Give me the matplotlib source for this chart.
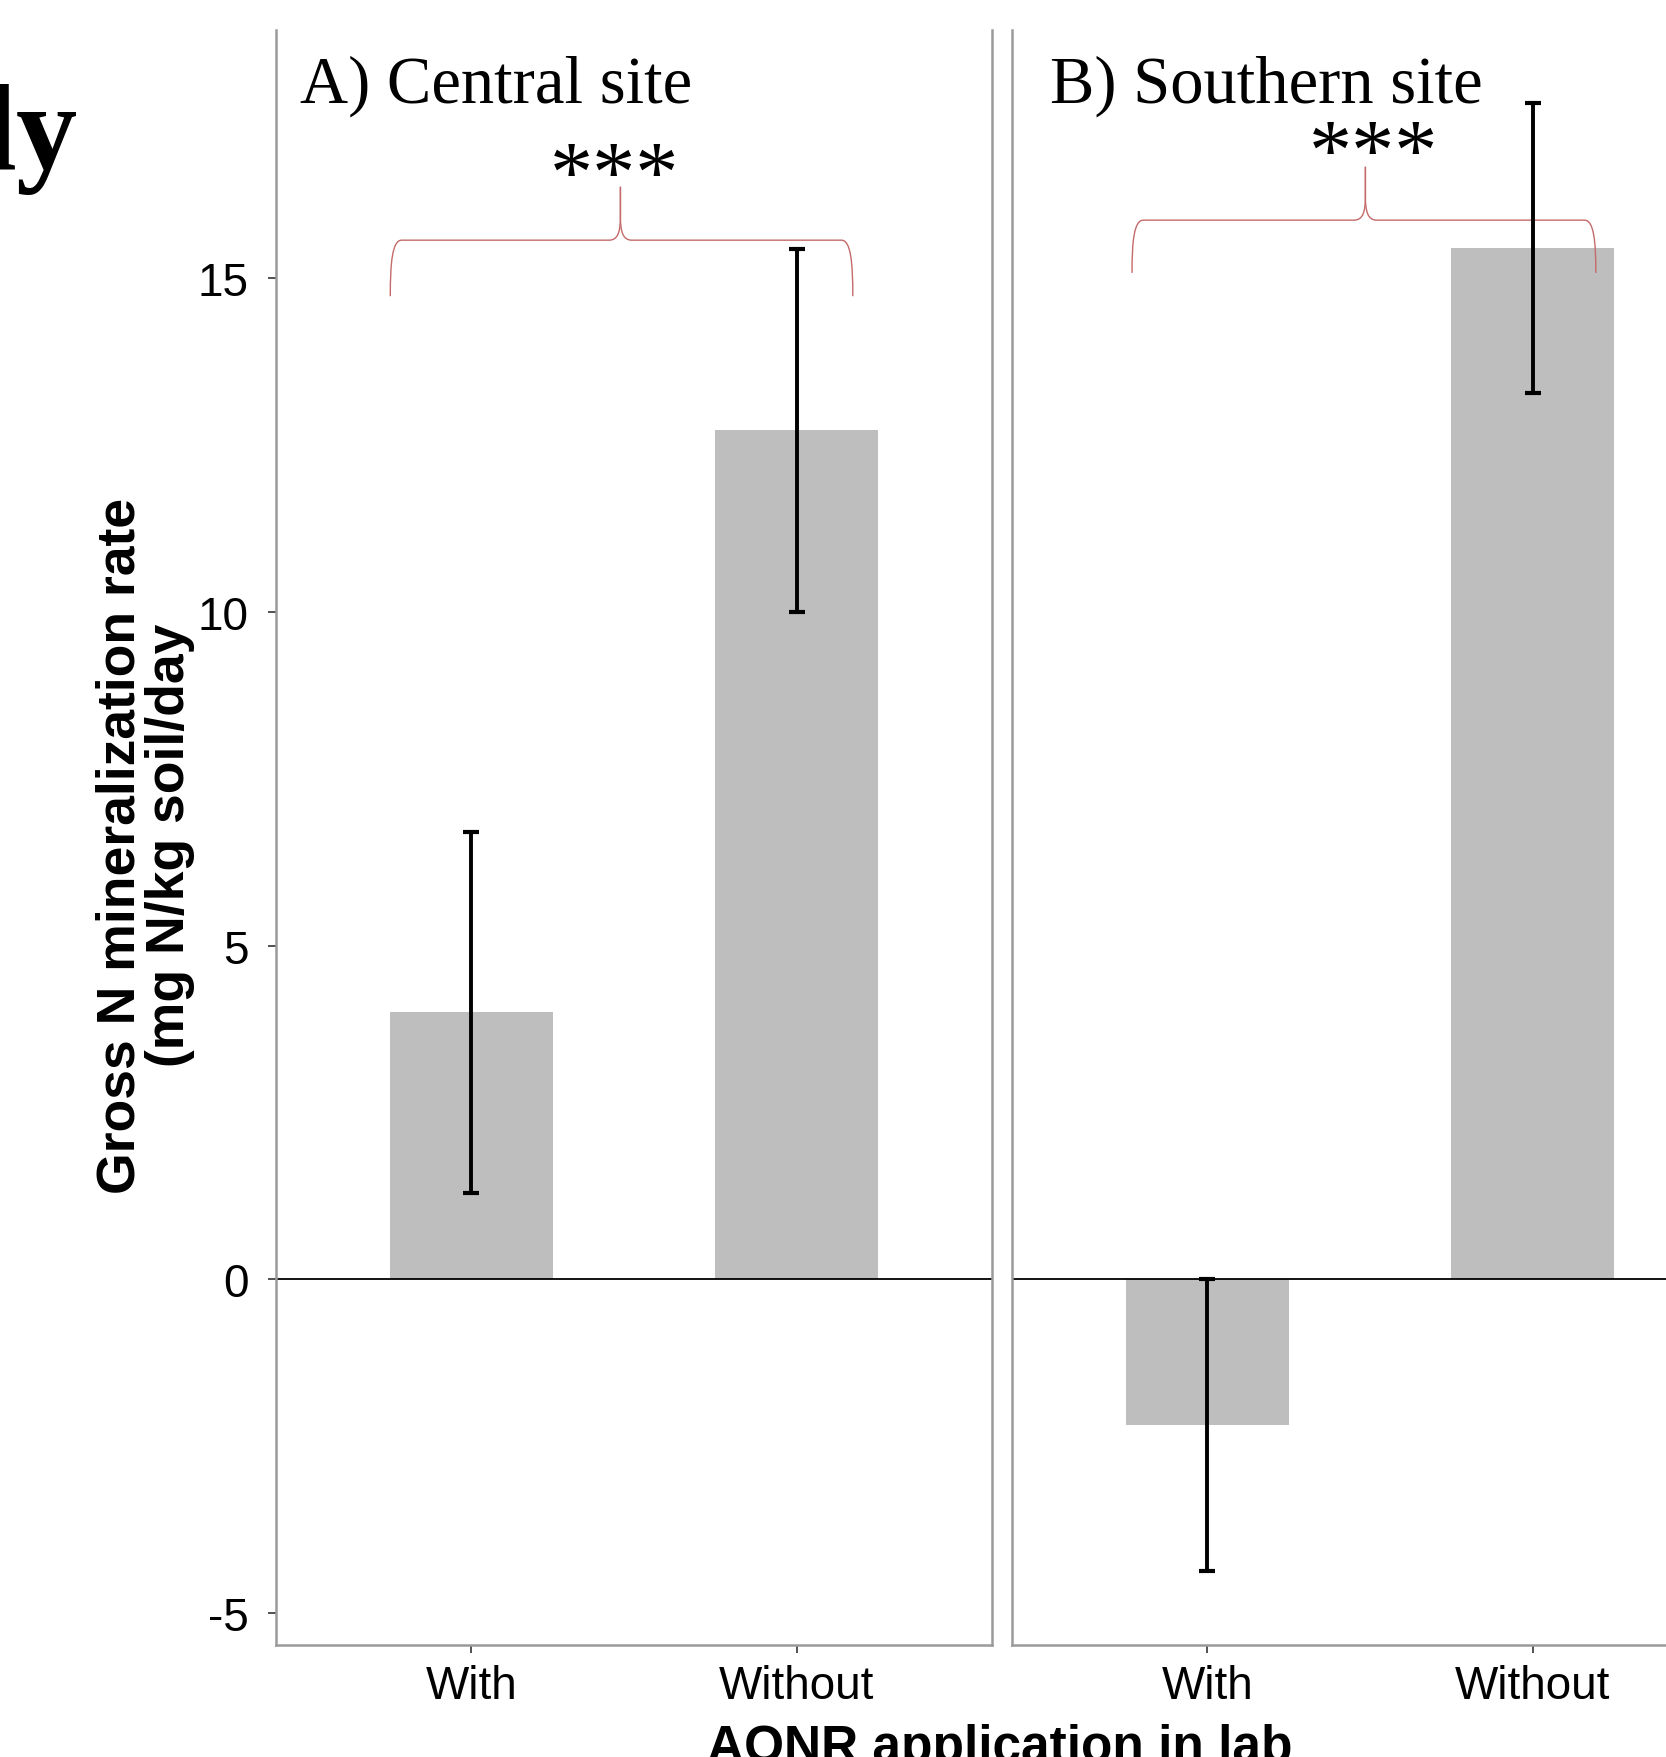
import numpy as np
import matplotlib
matplotlib.use("Agg")
import matplotlib.pyplot as plt
from matplotlib.path import Path
from matplotlib.patches import PathPatch

# donnees
traitements = ["With", "Without"]
titres = ["A) Central site", "B) Southern site"]
moy_central = [4.0, 12.72]
err_central = [2.70, 2.72]
moy_sud = [-2.18, 15.45]
err_sud = [2.19, 2.17]
signif = ["***", "***"]

sans = "Liberation Sans"
serif = "Liberation Serif"
gris_axe = "#9a9a9a"
couleur_acc = "#c46a6a"

fig = plt.figure(figsize=(16.66, 17.58), dpi=100)
ax1 = fig.add_axes([0.1657, 0.0637, 0.4298, 0.9187])
ax2 = fig.add_axes([0.6074, 0.0637, 0.4298, 0.9187])


def accolade(ax, x0, x1, xm, yb, yh, yt):
    # accolade horizontale dessinee a la main
    h = yt - yh
    for s, xe in [(-1, x0), (1, x1)]:
        verts = [(xe, yb), (xe, yb + 0.6 * (yh - yb)), (xe - s * 0.006, yh), (xe - s * 0.035, yh),
                 (xm + s * 0.035, yh),
                 (xm + s * 0.008, yh), (xm, yh + 0.15 * h), (xm, yh + 0.45 * h),
                 (xm, yt)]
        codes = [Path.MOVETO, Path.CURVE4, Path.CURVE4, Path.CURVE4, Path.LINETO,
                 Path.CURVE4, Path.CURVE4, Path.CURVE4, Path.LINETO]
        ax.add_patch(PathPatch(Path(verts, codes), fill=False, edgecolor=couleur_acc, lw=1.0,
                               clip_on=False))


x = np.arange(1, len(traitements) + 1)
params = [(ax1, moy_central, err_central, 0.475, (0.751, 2.172, 1.458, 14.73, 15.57, 16.37), 1.44, 16.17),
          (ax2, moy_sud, err_sud, 0.517, (0.769, 2.194, 1.486, 15.08, 15.87, 16.67), 1.511, 16.50)]

for i, (ax, moy, err, xt, acc, xs, ys) in enumerate(params):
    ax.bar(x, moy, width=0.5, color="#bebebe", zorder=1)
    ax.axhline(0, color="black", lw=1.3, zorder=2)
    ax.errorbar(x, moy, yerr=err, fmt="none", ecolor="black", elinewidth=2.8,
                capsize=6, capthick=3, zorder=3)
    ax.set_xlim(0.4, 2.6)
    ax.set_ylim(-5.48, 18.72)
    ax.set_xticks(x)
    ax.set_xticklabels(traitements, fontsize=33, family=sans)
    ax.set_yticks([-5, 0, 5, 10, 15])
    ax.set_yticklabels(["-5", "0", "5", "10", "15"], fontsize=33, family=sans)
    ax.tick_params(axis="x", length=6, width=1.2, color="#333333", pad=8)
    ax.tick_params(axis="y", length=6, width=1.2, color="#333333", pad=14)
    ax.spines["top"].set_visible(False)
    for sp in ["left", "right", "bottom"]:
        ax.spines[sp].set_color(gris_axe)
        ax.spines[sp].set_linewidth(1.8)
    ax.text(xt, 17.64, titres[i], fontsize=48, family=serif, ha="left", va="baseline")
    ax.text(xs, ys, signif[i], fontsize=62, family=serif, ha="center", va="baseline")
    accolade(ax, *acc)

ax2.tick_params(axis="y", left=False, labelleft=False)
ax2.spines["right"].set_visible(False)

ax1.set_ylabel("Gross N mineralization rate\n(mg N/kg soil/day", fontsize=38.5, family=sans,
               fontweight="bold", linespacing=1.0)
ax1.yaxis.set_label_coords(-0.113, 0.4956)

fig.text(0.600, -0.002, "AONR application in lab", fontsize=37, family=sans,
         fontweight="bold", ha="center", va="baseline")
# morceau de titre coupe en haut a gauche
fig.text(0.047, 0.904, "ly", fontsize=88, family=serif, fontweight="bold", ha="right", va="baseline")

fig.savefig("out.png", dpi=100)
